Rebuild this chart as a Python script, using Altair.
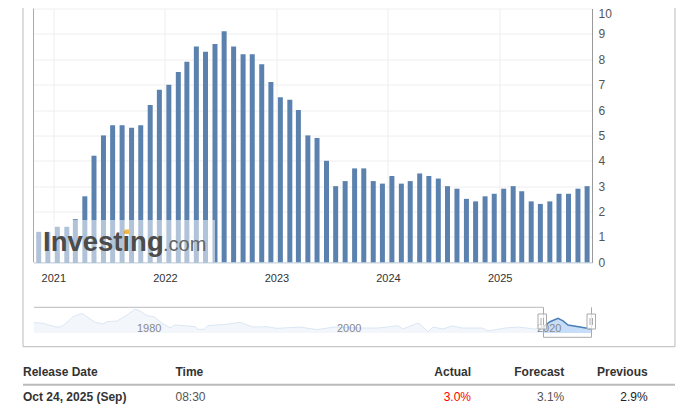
import altair as alt
import pandas as pd

# monthly inflation rate, bars sit at their release date
release_dates = pd.date_range("2020-11-01", periods=60, freq="MS").map(lambda d: d.replace(day=14)).strftime("%Y-%m-%d").tolist()
rates = [1.2, 1.2, 1.4, 1.4, 1.7, 2.6, 4.2, 5.0, 5.4, 5.4, 5.3, 5.4,
         6.2, 6.8, 7.0, 7.5, 7.9, 8.5, 8.3, 8.6, 9.1, 8.5, 8.2, 8.2,
         7.8, 7.1, 6.5, 6.4, 6.0, 5.0, 4.9, 4.0, 3.0, 3.2, 3.7, 3.7,
         3.2, 3.1, 3.4, 3.1, 3.2, 3.5, 3.4, 3.3, 3.0, 2.9, 2.5, 2.4,
         2.6, 2.7, 2.9, 3.0, 2.8, 2.4, 2.3, 2.4, 2.7, 2.7, 2.9, 3.0]
year_ticks = ["2021-01-01", "2022-01-01", "2023-01-01", "2024-01-01", "2025-01-01"]
rate_ticks = [0, 1, 2, 3, 4, 5, 6, 7, 8, 9, 10]

# navigator overview line, long history
nav_years = [1970.0, 1970.9, 1972.1, 1972.6, 1973.0, 1973.9, 1974.8, 1975.4, 1976.1, 1976.9,
             1977.3, 1978.3, 1979.3, 1980.1, 1980.6, 1981.3, 1982.0, 1982.8, 1983.6, 1984.1,
             1986.1, 1986.4, 1987.0, 1987.4, 1989.3, 1990.6, 1991.9, 1993.3, 1994.3, 1996.6,
             1998.3, 2000.0, 2002.8, 2004.4, 2006.4, 2006.9, 2008.3, 2008.6, 2009.4, 2009.9,
             2010.9, 2011.8, 2012.8, 2014.8, 2015.4, 2017.1, 2018.4, 2020.1, 2020.9, 2021.6,
             2022.4, 2022.9, 2023.4, 2024.6, 2025.75]
nav_values = [6.4, 6.0, 3.9, 3.7, 5.0, 10.1, 12.1, 9.5, 6.6, 5.6,
              7.0, 7.4, 11.1, 14.8, 13.6, 10.7, 10.1, 6.0, 3.3, 5.0,
              3.9, 2.3, 2.3, 4.6, 5.4, 6.6, 3.7, 3.9, 2.9, 3.7,
              2.1, 3.7, 3.1, 3.1, 4.5, 2.5, 6.0, 5.6, 0.7, 3.7,
              2.5, 4.4, 3.1, 3.1, 1.3, 3.1, 3.7, 2.5, 3.7, 7.0,
              9.1, 7.5, 4.9, 3.7, 2.5]
nav_labels = ["1980", "2000", "2020"]
nav_label_years = [1980, 2000, 2020]

headers = ["Release Date", "Time", "Actual", "Forecast", "Previous"]
row = ["Oct 24, 2025 (Sep)", "08:30", "3.0%", "3.1%", "2.9%"]

FONT = "Liberation Sans"


# page pixels to chart pixels
def px(x):
    return x - 33.5


def py(y):
    return y - 8.5


one = alt.Data(values=[{"a": 1}])


def line(x1, x2, y1, y2, color="#bbbbbb", w=1):
    return alt.Chart(one).mark_rule(color=color, strokeWidth=w).encode(
        x=alt.value(px(x1)), x2=alt.value(px(x2)), y=alt.value(py(y1)), y2=alt.value(py(y2)))


def box(x1, x2, y1, y2, **kw):
    return alt.Chart(one).mark_rect(**kw).encode(
        x=alt.value(px(x1)), x2=alt.value(px(x2)), y=alt.value(py(y1)), y2=alt.value(py(y2)))


def label(text, x, y, **kw):
    return alt.Chart(alt.Data(values=[{"t": text}])).mark_text(font=FONT, baseline="middle", **kw).encode(
        text="t:N", x=alt.value(px(x)), y=alt.value(py(y)))


bars_df = pd.DataFrame({"date": release_dates, "rate": rates})
bars = alt.Chart(bars_df).mark_bar(size=5, color="#5b82ae").encode(
    x=alt.X("date:T",
            scale=alt.Scale(type="utc", domain=["2020-10-28", "2025-10-30"], nice=False, padding=0),
            axis=alt.Axis(values=year_ticks, format="%Y", title=None, grid=True, gridColor="#eeeeee",
                          ticks=False, domainColor="#c0d0e0", labelColor="#333333", labelFont=FONT,
                          labelFontSize=11, labelPadding=10)),
    y=alt.Y("rate:Q",
            scale=alt.Scale(domain=[0, 10], nice=False),
            axis=alt.Axis(values=rate_ticks, orient="right", title=None, grid=True, gridColor="#eeeeee",
                          ticks=False, domainColor="#999999", labelColor="#555555", labelFont=FONT,
                          labelFontSize=12, labelPadding=6,
                          labelBaseline=alt.ExprRef("datum.value == 10 ? 'top' : 'middle'"))),
)

# navigator
nav_df = pd.DataFrame({"year": nav_years, "v": nav_values})
nav_recent = nav_df[nav_df.year >= 2020.9]
nav_x = alt.X("year:Q", scale=alt.Scale(domain=[1970, 2025.75], range=[px(34), px(591.5)], nice=False, zero=False), axis=None)
nav_y = alt.Y("v:Q", scale=alt.Scale(domain=[-2.6, 14.8], range=[py(337.3), py(309)], nice=False, zero=False), axis=None)
nav_base = alt.value(py(337.3))

nav_area = alt.Chart(nav_df).mark_area(color="#f3f7fc").encode(x=nav_x, y=nav_y, y2=nav_base)
nav_line = alt.Chart(nav_df).mark_line(color="#dbe7f4", strokeWidth=1).encode(x=nav_x, y=nav_y)
recent_area = alt.Chart(nav_recent).mark_area(color="#c8ddf7", opacity=1).encode(x=nav_x, y=nav_y, y2=nav_base)
recent_line = alt.Chart(nav_recent).mark_line(color="#4a7fb8", strokeWidth=1.5).encode(x=nav_x, y=nav_y)

# labels are left aligned a little right of their tick, like the original
nav_text_df = pd.DataFrame({"year": nav_label_years, "t": nav_labels})
nav_text = alt.Chart(nav_text_df).mark_text(font=FONT, fontSize=11, color="#888888", align="left", dx=3, baseline="middle").encode(
    x=nav_x, y=alt.value(py(329)), text="t:N")

handles = []
for hx in (542.5, 591.5):
    handles += [
        box(hx - 4.5, hx + 4, 314, 329, fill="#ffffff", fillOpacity=0.7, stroke="#aaaaaa"),
        line(hx - 1.5, hx - 1.5, 318, 325, "#aaaaaa"),
        line(hx + 1, hx + 1, 318, 325, "#aaaaaa"),
    ]

# table
cols_x = [23, 175.5, 471, 564.3, 647.7]
aligns = ["left", "left", "right", "right", "right"]
head_cells = [label(h, x, 371.5, fontSize=12, fontWeight="bold", color="#333333", align=a)
              for h, x, a in zip(headers, cols_x, aligns)]
row_styles = [
    dict(fontWeight="bold", color="#333333"),
    dict(color="#555555"),
    dict(color="#ff0000"),
    dict(color="#555555"),
    dict(color="#222222"),
]
row_cells = [label(t, x, 397, fontSize=12, align=a, **s)
             for t, x, a, s in zip(row, cols_x, aligns, row_styles)]

chart = alt.layer(
    bars,
    line(33.5, 33.5, 8.5, 262.3, "#aaaaaa"),
    # watermark
    box(35, 215, 220, 262, fill="#ffffff", fillOpacity=0.52),
    label("Investing", 43, 242.6, fontSize=27.5, fontWeight="bold", color="#4c4c4c", align="left"),
    box(124.5, 129, 229.5, 234, fill="#f5b942"),
    label(".com", 163, 245, fontSize=20, color="#666666", align="left"),
    # outer frame
    line(23, 23, 8, 346.7),
    line(675, 675, 8, 346.7),
    line(23, 675, 346.7, 346.7),
    # navigator
    line(34, 543.5, 307.3, 307.3),
    nav_area, nav_line, recent_area, recent_line,
    line(543.5, 543.5, 307.3, 337.3, "#aaaaaa"),
    line(591.5, 591.5, 307.3, 337.3, "#aaaaaa"),
    line(543.5, 591.5, 337.3, 337.3, "#aaaaaa"),
    nav_text,
    *handles,
    # table
    *head_cells,
    line(23, 675, 384.7, 384.7, "#bbbbbb", 2),
    *row_cells,
).resolve_scale(x="independent", y="independent").properties(
    width=558.5, height=253.8,
    autosize=alt.AutoSizeParams(type="none"),
    padding={"left": 25.5, "top": 0.5, "right": 90, "bottom": 142.7},
).configure_view(stroke=None)

chart.save("out.html", embed_options={"renderer": "svg", "actions": False})
